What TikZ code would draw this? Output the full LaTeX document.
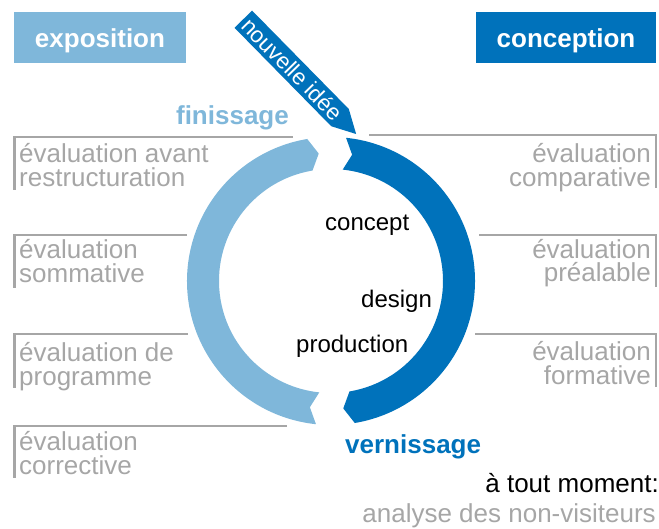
\documentclass[tikz,border=0pt]{standalone}
\usepackage{fontspec}
\setmainfont{Liberation Sans}
\usepackage{tikz}
\definecolor{expoblue}{RGB}{127,183,218}
\definecolor{concblue}{RGB}{0,114,187}
\definecolor{evalgray}{RGB}{166,166,166}

\begin{document}
\begin{tikzpicture}[x=1pt, y=1pt,
		big/.style={font=\fontsize{26}{23.5}\selectfont, inner sep=0pt},
		bold/.style={font=\bfseries\fontsize{26}{24}\selectfont, inner sep=0pt},
		eval/.style={big, text=evalgray, align=left, anchor=base west},
		evalr/.style={big, text=evalgray, align=right, anchor=base east},
		brk/.style={draw=evalgray, line width=2.2pt},
		head/.style={bold, text=white, minimum width=172pt, minimum height=51pt, text height=20.4pt, text depth=0pt},
		phase/.style={font=\fontsize{24}{24}\selectfont, inner sep=0pt, anchor=base west}]
	\useasboundingbox (0,0) rectangle (659,529);
	\node[head, fill=expoblue] (expo) at (100,491.5) {exposition};
	\node[head, fill=concblue, minimum width=180pt] (conc) at (566,491.5) {conception};
	\begin{scope}[shift={(331,248)}]
		\foreach \r/\c in {0/concblue, 180/expoblue}
			\fill[\c, rotate=\r] (84:144) arc[start angle=84, end angle=-80.5, radius=144] -- (-84.5:128) -- (-80.5:112) arc[start angle=-80.5, end angle=84, radius=112] -- (80.5:128) -- cycle;
	\end{scope}
	\begin{scope}[shift={(243.3,509.8)}, rotate=-45.5]
		\fill[concblue] (0,-12.3) -- (138,-12.3) -- (161,0) -- (138,12.3) -- (0,12.3) -- cycle;
		\node[font=\fontsize{22.5}{24}\selectfont, text=white, inner sep=0pt, rotate=-45.5] (idee) at (70,0) {nouvelle idée};
	\end{scope}
	\node[bold, text=expoblue, anchor=base east] (finis) at (289,404.7) {finissage};
	\node[bold, text=concblue, anchor=base west] (verni) at (345,75) {vernissage};
	\node[phase] (concept) at (325,298) {concept};
	\node[phase] (design) at (361,221.3) {design};
	\node[phase] (prod) at (296,176.3) {production};
	\draw[brk] (293,392) -| (14.5,339);
	\draw[brk] (187,294) -| (14.5,241);
	\draw[brk] (188,195) -| (14.5,141);
	\draw[brk] (287,103) -| (14.5,51);
	\draw[brk] (369,394) -| (656,341);
	\draw[brk] (479,294) -| (656,242);
	\draw[brk] (475,195) -| (656,142);
	\node[eval] (evrest) at (19,342.8) {évaluation avant\\restructuration};
	\node[eval] (evsomm) at (19,246.5) {évaluation\\sommative};
	\node[eval] (evprog) at (19,143.8) {évaluation de\\programme};
	\node[eval] (evcorr) at (19,54.5) {évaluation\\corrective};
	\node[evalr] (evcomp) at (651,342.8) {évaluation\\comparative};
	\node[evalr] (evprea) at (651,247) {évaluation\\préalable};
	\node[evalr] (evform) at (651,144.5) {évaluation\\formative};
	\node[big, anchor=base east] (moment) at (659,36.3) {à tout moment:};
	\node[big, text=evalgray, anchor=base east] (nonvis) at (656,6.3) {analyse des non-visiteurs};
\end{tikzpicture}
\end{document}
